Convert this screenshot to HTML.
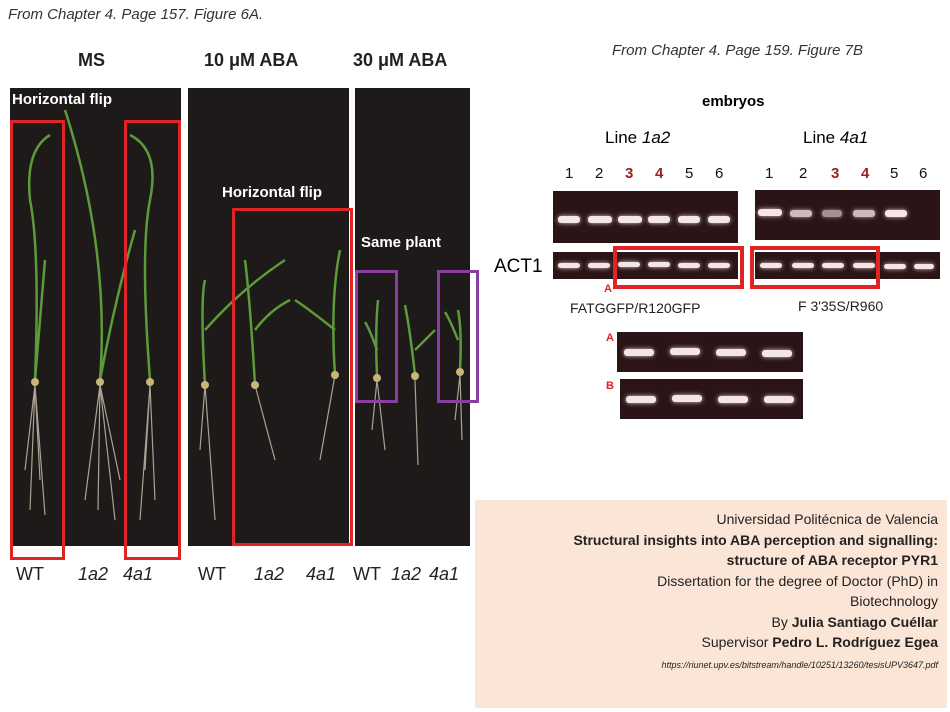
<!DOCTYPE html>
<html><head><meta charset="utf-8"><style>
body{margin:0;width:950px;height:712px;background:#fff;position:relative;overflow:hidden;font-family:"Liberation Sans",sans-serif}
.a{position:absolute}
.p{position:absolute;background:#1e1a1a}
.rb{position:absolute;border:3px solid #e02424;box-sizing:border-box}
.pb{position:absolute;border:3px solid #8a3fa0;box-sizing:border-box}
.g{position:absolute;background:#2a1416}
.band{position:absolute;height:7px;border-radius:3px;background:#f2e6e6;box-shadow:0 0 5px #e8c8c8}
.lab{position:absolute;font-size:18px;color:#222}
.wh{position:absolute;color:#fff;font-weight:bold;font-size:15px}
.n{position:absolute;font-size:15px;color:#111}
.r{color:#9b2222;font-weight:bold}
</style></head><body>
<div class="a" style="left:8px;top:6px;font-style:italic;font-size:15px;color:#333">From Chapter 4. Page 157. Figure 6A.</div>
<div class="a" style="left:612px;top:42px;font-style:italic;font-size:15px;color:#333">From Chapter 4. Page 159. Figure 7B</div>
<div class="a" style="left:78px;top:50px;font-weight:bold;font-size:18px;color:#222">MS</div>
<div class="a" style="left:204px;top:50px;font-weight:bold;font-size:18px;color:#222">10 μM ABA</div>
<div class="a" style="left:353px;top:50px;font-weight:bold;font-size:18px;color:#222">30 μM ABA</div>
<div class="p" style="left:10px;top:88px;width:171px;height:458px"></div>
<div class="p" style="left:188px;top:88px;width:161px;height:458px"></div>
<div class="p" style="left:355px;top:88px;width:115px;height:458px"></div>
<svg class="a" style="left:0;top:0" width="480" height="560">
<g stroke="#5c9a3a" stroke-width="2.5" fill="none">
<path d="M35 380 Q40 250 30 200 Q25 150 50 135"/><path d="M35 380 L45 260"/>
<path d="M100 380 Q110 250 65 110"/><path d="M100 380 Q115 300 135 230"/>
<path d="M150 380 Q140 250 150 200 Q160 150 130 135"/>
<path d="M205 385 Q200 300 205 280"/><path d="M205 330 Q240 290 285 260"/>
<path d="M255 385 Q250 300 245 260"/><path d="M255 330 Q270 310 290 300"/>
<path d="M335 375 Q330 300 340 250"/><path d="M335 330 Q310 310 295 300"/>
<path d="M377 375 Q375 330 378 300"/><path d="M377 350 Q370 330 365 322"/>
<path d="M415 375 Q410 330 405 305"/><path d="M415 350 Q425 340 435 330"/>
<path d="M460 370 Q462 330 458 310"/><path d="M458 340 Q450 320 445 312"/>
</g>
<g stroke="#cfc4b0" stroke-width="1.2" fill="none" opacity=".8">
<path d="M35 385 L30 510 M35 385 L45 515 M35 385 L25 470 M35 385 L40 480"/>
<path d="M100 385 L85 500 M100 385 L115 520 M100 385 L98 510 M100 385 L120 480"/>
<path d="M150 385 L140 520 M150 385 L155 500 M150 385 L145 470"/>
<path d="M205 385 L215 520 M205 385 L200 450"/>
<path d="M255 385 L275 460"/><path d="M335 375 L320 460"/>
<path d="M377 380 L385 450 M377 380 L372 430"/><path d="M415 380 L418 465"/><path d="M460 375 L462 440 M460 375 L455 420"/>
</g>
<g fill="#c9b57a"><circle cx="35" cy="382" r="4"/><circle cx="100" cy="382" r="4"/><circle cx="150" cy="382" r="4"/><circle cx="205" cy="385" r="4"/><circle cx="255" cy="385" r="4"/><circle cx="335" cy="375" r="4"/><circle cx="377" cy="378" r="4"/><circle cx="415" cy="376" r="4"/><circle cx="460" cy="372" r="4"/></g>
</svg>
<div class="wh" style="left:12px;top:91px">Horizontal flip</div>
<div class="wh" style="left:222px;top:184px">Horizontal flip</div>
<div class="wh" style="left:361px;top:234px">Same plant</div>
<div class="rb" style="left:10px;top:120px;width:55px;height:440px"></div>
<div class="rb" style="left:124px;top:120px;width:57px;height:440px"></div>
<div class="rb" style="left:232px;top:208px;width:121px;height:338px"></div>
<div class="pb" style="left:355px;top:270px;width:43px;height:133px"></div>
<div class="pb" style="left:437px;top:270px;width:42px;height:133px"></div>
<div class="lab" style="left:16px;top:564px">WT</div>
<div class="lab" style="left:78px;top:564px;font-style:italic">1a2</div>
<div class="lab" style="left:123px;top:564px;font-style:italic">4a1</div>
<div class="lab" style="left:198px;top:564px">WT</div>
<div class="lab" style="left:254px;top:564px;font-style:italic">1a2</div>
<div class="lab" style="left:306px;top:564px;font-style:italic">4a1</div>
<div class="lab" style="left:353px;top:564px">WT</div>
<div class="lab" style="left:391px;top:564px;font-style:italic">1a2</div>
<div class="lab" style="left:429px;top:564px;font-style:italic">4a1</div>

<div class="a" style="left:702px;top:93px;font-weight:bold;font-size:15px">embryos</div>
<div class="a" style="left:605px;top:128px;font-size:17px">Line <i>1a2</i></div>
<div class="a" style="left:803px;top:128px;font-size:17px">Line <i>4a1</i></div>
<div class="n" style="left:565px;top:165px">1</div><div class="n" style="left:595px;top:165px">2</div><div class="n r" style="left:625px;top:165px">3</div><div class="n r" style="left:655px;top:165px">4</div><div class="n" style="left:685px;top:165px">5</div><div class="n" style="left:715px;top:165px">6</div>
<div class="n" style="left:765px;top:165px">1</div><div class="n" style="left:799px;top:165px">2</div><div class="n r" style="left:831px;top:165px">3</div><div class="n r" style="left:861px;top:165px">4</div><div class="n" style="left:890px;top:165px">5</div><div class="n" style="left:919px;top:165px">6</div>
<div class="g" style="left:553px;top:191px;width:185px;height:52px"></div>
<div class="g" style="left:755px;top:190px;width:185px;height:50px"></div>
<div class="g" style="left:553px;top:252px;width:185px;height:27px"></div>
<div class="g" style="left:755px;top:252px;width:185px;height:27px"></div>
<div class="g" style="left:617px;top:332px;width:186px;height:40px"></div>
<div class="g" style="left:620px;top:379px;width:183px;height:40px"></div>
<div class="band" style="left:558px;top:216px;width:22px"></div><div class="band" style="left:588px;top:216px;width:24px"></div><div class="band" style="left:618px;top:216px;width:24px"></div><div class="band" style="left:648px;top:216px;width:22px"></div><div class="band" style="left:678px;top:216px;width:22px"></div><div class="band" style="left:708px;top:216px;width:22px"></div>
<div class="band" style="left:758px;top:209px;width:24px"></div><div class="band" style="left:790px;top:210px;width:22px;opacity:.8"></div><div class="band" style="left:822px;top:210px;width:20px;opacity:.6"></div><div class="band" style="left:853px;top:210px;width:22px;opacity:.8"></div><div class="band" style="left:885px;top:210px;width:22px"></div>
<div class="band" style="left:558px;top:263px;width:22px;height:5px"></div><div class="band" style="left:588px;top:263px;width:22px;height:5px"></div><div class="band" style="left:618px;top:262px;width:22px;height:5px"></div><div class="band" style="left:648px;top:262px;width:22px;height:5px"></div><div class="band" style="left:678px;top:263px;width:22px;height:5px"></div><div class="band" style="left:708px;top:263px;width:22px;height:5px"></div>
<div class="band" style="left:760px;top:263px;width:22px;height:5px"></div><div class="band" style="left:792px;top:263px;width:22px;height:5px"></div><div class="band" style="left:822px;top:263px;width:22px;height:5px"></div><div class="band" style="left:853px;top:263px;width:22px;height:5px"></div><div class="band" style="left:884px;top:264px;width:22px;height:5px"></div><div class="band" style="left:914px;top:264px;width:20px;height:5px"></div>
<div class="band" style="left:624px;top:349px;width:30px"></div><div class="band" style="left:670px;top:348px;width:30px"></div><div class="band" style="left:716px;top:349px;width:30px"></div><div class="band" style="left:762px;top:350px;width:30px"></div>
<div class="band" style="left:626px;top:396px;width:30px"></div><div class="band" style="left:672px;top:395px;width:30px"></div><div class="band" style="left:718px;top:396px;width:30px"></div><div class="band" style="left:764px;top:396px;width:30px"></div>
<div class="rb" style="left:613px;top:246px;width:131px;height:43px;border-width:4px"></div>
<div class="rb" style="left:750px;top:246px;width:130px;height:43px;border-width:4px"></div>
<div class="a" style="left:494px;top:256px;font-size:19px">ACT1</div>
<div class="a" style="left:604px;top:283px;font-size:11px;color:#e02424;font-weight:bold">A</div>
<div class="a" style="left:570px;top:300px;font-size:14px;color:#222">FATGGFP/R120GFP</div>
<div class="a" style="left:798px;top:298px;font-size:14px;color:#222">F 3'35S/R960</div>
<div class="a" style="left:606px;top:332px;font-size:11px;color:#e02424;font-weight:bold">A</div>
<div class="a" style="left:606px;top:380px;font-size:11px;color:#e02424;font-weight:bold">B</div>

<div class="a" style="left:475px;top:500px;width:472px;height:208px;background:#fbe5d6"></div>
<div class="a" style="left:480px;top:509px;width:458px;text-align:right;font-size:14px;line-height:20.5px;color:#222">
Universidad Politécnica de Valencia<br>
<b>Structural insights into ABA perception and signalling:<br>structure of ABA receptor PYR1</b><br>
Dissertation for the degree of Doctor (PhD) in<br>Biotechnology<br>
By <b>Julia Santiago Cuéllar</b><br>
Supervisor <b>Pedro L. Rodríguez Egea</b><br>
<span style="font-size:9px;font-style:italic;line-height:14px">https://riunet.upv.es/bitstream/handle/10251/13260/tesisUPV3647.pdf</span>
</div>
</body></html>
